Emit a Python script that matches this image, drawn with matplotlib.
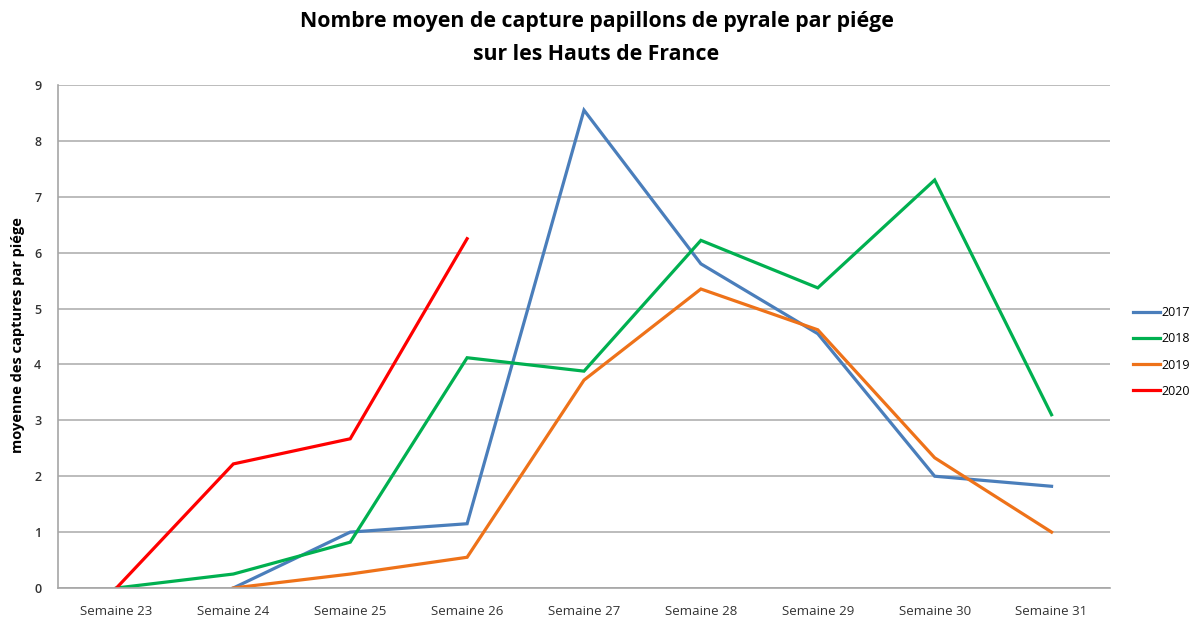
import numpy as np
import matplotlib
matplotlib.use("Agg")
import matplotlib.pyplot as plt

categories = ["Semaine 23", "Semaine 24", "Semaine 25", "Semaine 26", "Semaine 27",
              "Semaine 28", "Semaine 29", "Semaine 30", "Semaine 31"]
s2017 = [None, 0.0, 1.0, 1.15, 8.55, 5.8, 4.55, 2.0, 1.82]
s2018 = [0.0, 0.25, 0.82, 4.12, 3.88, 6.22, 5.37, 7.3, 3.1]
s2019 = [None, 0.0, 0.25, 0.55, 3.72, 5.35, 4.62, 2.33, 1.0]
s2020 = [0.0, 2.22, 2.67, 6.25, None, None, None, None, None]
series_names = ["2017", "2018", "2019", "2020"]
colors = ["#4A7EBB", "#00B050", "#EE7219", "#FF0000"]

plt.rcParams['font.family'] = ['Open Sans', 'DejaVu Sans']

fig = plt.figure(figsize=(11.93, 6.17), dpi=100)
ax = fig.add_axes([58/1193, 1-588/617, (1110-58)/1193, (588-85)/617])

x = np.arange(len(categories))
for name, vals, c in zip(series_names, [s2017, s2018, s2019, s2020], colors):
    y = np.array([np.nan if v is None else v for v in vals], dtype=float)
    ax.plot(x, y, color=c, lw=2.3, label=name, solid_joinstyle='miter')

ax.set_xlim(-0.5, len(categories) - 0.5)
ax.set_ylim(0, 9)
ax.set_yticks(range(0, 10))
ax.set_xticks(x)
ax.set_xticklabels(categories, fontsize=9.5, color="#333333")
ax.tick_params(axis='x', length=0, pad=12)
ax.tick_params(axis='y', length=0, pad=12, labelsize=9, labelcolor="#333333")
for t in ax.get_yticklabels():
    t.set_fontweight('semibold')
ax.grid(axis='y', color="#B0B0B0", lw=1.2)
ax.set_axisbelow(True)
for s in ['top', 'right']:
    ax.spines[s].set_visible(False)
for s in ['left', 'bottom']:
    ax.spines[s].set_color("#A6A6A6")
    ax.spines[s].set_linewidth(1.2)

ax.set_ylabel("moyenne des captures par piége", fontsize=10.5, fontweight='bold')
ax.yaxis.set_label_coords(-33/1052, 0.503)

fig.text(0.5, 1-22/617, "Nombre moyen de capture papillons de pyrale par piége",
         ha='center', va='center', fontsize=15.3, fontweight='bold')
fig.text(0.5, 1-54/617, "sur les Hauts de France",
         ha='center', va='center', fontsize=15.3, fontweight='bold')

leg = ax.legend(loc='center left', bbox_to_anchor=(1122/1193, 1-352/617),
                bbox_transform=fig.transFigure, frameon=False, fontsize=9,
                handlelength=2.1, labelspacing=1.05, handletextpad=0.15)

fig.savefig("out.png", dpi=100)
